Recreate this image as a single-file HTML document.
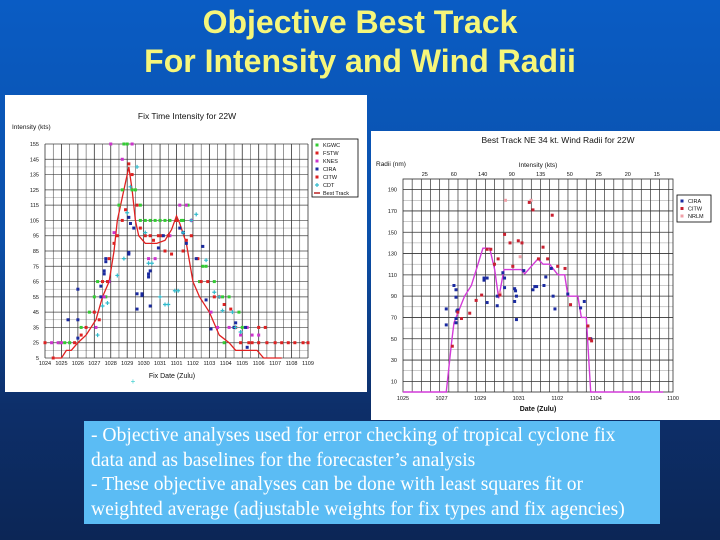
<!DOCTYPE html>
<html><head><meta charset="utf-8"><style>
html,body{margin:0;padding:0;width:720px;height:540px;overflow:hidden}
body{background:linear-gradient(180deg,#0a5cc4 0%,#0b4fa8 45%,#0d2f6a 75%,#0c2656 100%);font-family:"Liberation Sans",sans-serif;position:relative}
#title{position:absolute;left:0;width:720px;top:3px;text-align:center;color:#f6f67a;font-weight:bold;font-size:32px;line-height:39px}
#note{position:absolute;left:84px;top:421px;width:576px;height:103px;background:#5bbcf4;color:#fff;font-family:"Liberation Serif",serif;font-size:19.6px;line-height:24.5px;padding:3px 0 0 7px;box-sizing:border-box;white-space:nowrap}
svg{position:absolute;left:0;top:0}
</style></head><body>
<div id="title">Objective Best Track<br>For Intensity and Wind Radii</div>
<svg id="s" width="720" height="540"></svg>
<div id="note">- Objective analyses used for error checking of tropical cyclone fix<br>data and as baselines for the forecaster’s analysis<br>- These objective analyses can be done with least squares fit or<br>weighted average (adjustable weights for fix types and fix agencies)</div>
<script>
// ---- Left chart data (day index from 1024, intensity kt) ----
const L_xLabels=["1024","1025","1026","1027","1028","1029","1030","1031","1101","1102","1103","1104","1105","1106","1107","1108","1109"];
const L_yTicks=[15,25,35,45,55,65,75,85,95,105,115,125,135,145,155];
const L_yLabels=["5","25","35","45","55","65","75","85","95","105","115","125","135","145","155"];
const L_bestDay=[0.6,1.0,1.3,1.6,2.0,2.5,3.1,3.5,3.9,4.2,4.4,4.6,4.8,5.1,5.3,5.5,5.7,6.1,6.8,7.3,7.7,8.0,8.2,8.6,9.0,9.4,10.0,10.6,11.2,11.6,12.9,13.3,14.4];
const L_bestVal=[15,15,20,20,25,30,40,55,65,85,105,115,125,140,125,105,95,90,90,92,99,108,103,90,65,55,45,30,25,20,20,15,15];
const KGWC_d=[0.9,1.2,1.5,2.2,2.7,3.0,3.2,3.7,4.5,4.7,4.8,5.0,5.3,5.5,5.8,5.8,6.1,6.4,6.7,7.0,7.3,7.6,8.0,8.3,8.7,8.4,9.4,9.6,9.8,10.3,10.8,11.2,11.8,10.9,11.5,12.0];
const KGWC_v=[25,25,25,35,45,55,65,55,115,125,155,155,125,125,115,105,105,105,105,105,105,105,105,105,115,105,65,75,75,65,55,55,45,25,35,35];
const FSTW_d=[0.0,0.5,1.8,2.2,2.5,3.0,3.3,3.5,3.8,3.9,4.2,4.4,4.7,4.9,5.1,5.3,5.6,5.8,6.1,6.4,6.6,6.9,7.1,7.3,7.5,7.7,8.0,8.4,8.6,8.9,9.3,9.5,9.9,10.3,10.6,10.9,11.3,11.6,11.9,12.4,12.6,13.0,13.4,13.0,13.5,14.0,14.4,14.8,15.2,15.7,16.0];
const FSTW_v=[25,15,25,30,35,45,40,65,65,80,90,95,105,112,142,135,115,100,95,95,92,95,95,85,95,83,105,85,92,95,80,65,65,55,55,50,47,35,25,25,25,35,35,25,25,25,25,25,25,25,25];
const KNES_d=[0.4,0.8,1.0,3.1,3.6,3.9,4.0,4.7,5.3,4.2,6.3,6.7,7.6,8.2,8.6,8.9,10.1,10.5,11.2,11.9,12.3,12.6,13.0];
const KNES_v=[25,25,25,35,55,65,155,145,155,97,80,80,95,115,115,105,45,35,35,30,35,30,30];
const CIRA_d=[1.4,2.0,2.0,2.0,3.4,3.4,3.6,3.6,3.7,3.7,5.1,5.1,5.1,5.2,5.4,5.6,5.9,5.9,5.6,6.3,6.3,6.4,6.4,6.9,7.2,8.2,8.4,8.6,9.2,9.6,9.8,10.1,11.5,11.6,12.2,12.3];
const CIRA_v=[40,40,28,60,55,62,70,72,78,80,83,84,107,103,100,57,56,57,47,68,70,72,49,87,95,100,97,90,80,88,53,34,35,38,35,22];
const CDT_d=[3.2,3.5,3.8,4.4,4.8,5.0,5.2,5.6,6.1,6.3,6.5,7.0,7.3,7.5,7.9,8.1,8.4,8.9,9.2,9.8,10.3,10.8,11.4,11.6,11.9,10.6];
const CDT_v=[30,49,51,69,80,110,127,140,97,77,77,55,50,50,59,59,97,105,109,79,58,46,45,35,32,55];
// ---- Right chart data (day index from 1025, radii nm) ----
const R_xLabels=["1025","1027","1029","1031","1102","1104","1106","1100"];
const R_yTicks=[10,30,50,70,90,110,130,150,170,190];
const R_topLabels=["25","60","140","90","135","50","25","20","15"];
const R_bestDay=[-0.09,2.27,2.55,2.69,3.27,3.64,4.27,4.64,4.91,5.13,5.42,6.36,6.55,7.27,7.55,7.91,8.36,8.73,8.91,9.45,9.64,9.91,10.15,14.1];
const R_bestVal=[0,0,45,65,90,100,135,135,115,88,115,115,111,125,120,120,110,110,90,90,70,70,0,0];
const RCIRA_d=[2.27,2.27,2.69,2.8,2.8,2.85,2.9,2.8,2.8,4.33,4.33,4.5,4.5,5.05,5.05,5.36,5.45,5.45,6.0,6.05,6.0,6.1,6.1,6.5,7.0,7.1,7.2,7.6,7.7,8.1,8.2,8.0,8.9,9.6,9.8,10.15];
const RCIRA_v=[78,63,100,96,89,76,77,69,65,107,105,107,84,90,81,112,107,98,97,95,85,90,68,114,96,99,99,100,108,90,78,116,92,79,85,50];
const RCITW_d=[2.6,2.9,3.1,3.55,3.9,4.2,4.5,4.7,4.9,5.1,5.2,5.45,5.75,5.9,6.2,6.4,6.8,7.0,7.3,7.55,7.8,8.05,8.35,8.75,9.05,10.0,10.2,10.1];
const RCITW_v=[43,75,69,74,86,91,134,134,120,125,91,148,140,118,142,140,178,171,125,136,125,166,118,116,82,62,48,50];
const RNRLM_d=[5.5,6.3,6.9,5.2];
const RNRLM_v=[180,127,180,93];

const NS="http://www.w3.org/2000/svg";
const svg=document.getElementById('s');
function mk(tag,attrs,parent){const e=document.createElementNS(NS,tag);for(const k in attrs)e.setAttribute(k,attrs[k]);(parent||svg).appendChild(e);return e;}
function txt(x,y,s,size,anchor,parent,weight){const t=mk('text',{x:x,y:y,'font-size':size,'text-anchor':anchor||'start','font-family':'Liberation Sans, sans-serif',fill:'#111','font-weight':weight||'normal'},parent);t.textContent=s;return t;}

// ===== LEFT CHART =====
const gL=mk('g',{});


const bgL=mk('rect',{x:5,y:95,width:362,height:297,fill:'#fff'},gL);


const LX0=45,LX1=308,LY0=144,LY1=358;
const lx=d=>LX0+d*(LX1-LX0)/16;
const ly=v=>LY1-(v-15)*(LY1-LY0)/140;
for(let v=15;v<=155;v+=5){if(v%10==0&&v%20!=0)continue;const l=mk('line',{x1:LX0,x2:LX1,y1:ly(v),y2:ly(v),stroke:(v%10==5)?'#444':'#999','stroke-width':(v%10==5)?0.7:0.5},gL);}
for(let d=0;d<=16;d+=0.5){const l=mk('line',{x1:lx(d),x2:lx(d),y1:LY0,y2:LY1,stroke:'#333','stroke-width':(d%1==0)?0.8:0.5},gL);}
L_yTicks.forEach((v,i)=>{const t=txt(LX0-6,ly(v)+2,L_yLabels[i],5.5,'end',gL);});
L_xLabels.forEach((s,i)=>{const t=txt(lx(i),365,s,5.5,'middle',gL);});
let t;
t=txt(187,119,'Fix Time Intensity for 22W',8.5,'middle',gL);
t=txt(12,129,'Intensity (kts)',6.5,'start',gL);
t=txt(172,378,'Fix Date (Zulu)',7,'middle',gL);
t=txt(133,384,'+',8,'middle',gL);t.setAttribute('fill','#3cc');

function sq(x,y,c,g,name){const r=mk('rect',{x:x-1.5,y:y-1.5,width:3,height:3,fill:c},g);}
function plus(x,y,c,g,name){const p=mk('path',{d:`M${x-2},${y}h4M${x},${y-2}v4`,stroke:c,'stroke-width':1.2},g);}
const bl=mk('polyline',{points:L_bestDay.map((d,i)=>lx(d)+','+ly(L_bestVal[i])).join(' '),fill:'none',stroke:'#e02020','stroke-width':1.3},gL);


KGWC_d.forEach((d,i)=>sq(lx(d),ly(KGWC_v[i]),'#3c3',gL,'kgwc-point'));
KNES_d.forEach((d,i)=>sq(lx(d),ly(KNES_v[i]),'#c3c',gL,'knes-point'));
FSTW_d.forEach((d,i)=>sq(lx(d),ly(FSTW_v[i]),'#d22',gL,'fstw-point'));
CIRA_d.forEach((d,i)=>sq(lx(d),ly(CIRA_v[i]),'#1a2aa0',gL,'cira-point'));
CDT_d.forEach((d,i)=>plus(lx(d),ly(CDT_v[i]),'#3bc',gL,'cdt-point'));
const lg=mk('g',{},gL);


mk('rect',{x:312,y:139,width:46,height:58,fill:'#fff',stroke:'#000','stroke-width':0.8},lg);
const LN=["KGWC","FSTW","KNES","CIRA","CITW","CDT","Best Track"],LC=["#3c3","#d22","#c3c","#1a2aa0","#d22","#3bc","#b22"];
LN.forEach((n,i)=>{const y=145+i*8;const e=mk('g',{},lg);
if(i==5)plus(317,y,LC[i],e,'legend-marker');else if(i==6)mk('line',{x1:314,x2:320,y1:y,y2:y,stroke:LC[i],'stroke-width':1.5},e);else sq(317,y,LC[i],e,'legend-marker');
txt(323,y+2,n,5.5,'start',e);});

// ===== RIGHT CHART =====
const gR=mk('g',{});


const bgR=mk('rect',{x:371,y:131,width:349,height:289,fill:'#fff'},gR);


const RX0=403,RX1=673,RY0=179,RY1=392;
const rx=d=>RX0+(d+0.09)*(RX1-RX0)/14.73;
const ry=v=>RY1-v*(RY1-RY0)/200;
for(let v=0;v<=200;v+=10){const l=mk('line',{x1:RX0,x2:RX1,y1:ry(v),y2:ry(v),stroke:(v%20==10)?'#333':'#999','stroke-width':(v%20==10)?0.8:0.5},gR);}
for(let d=-0.09+0.5;d<=14.64;d+=0.5){const l=mk('line',{x1:rx(d),x2:rx(d),y1:RY0,y2:RY1,stroke:'#333','stroke-width':0.7},gR);}
mk('rect',{x:RX0,y:RY0,width:RX1-RX0,height:RY1-RY0,fill:'none',stroke:'#333','stroke-width':0.8},gR);
R_yTicks.forEach(v=>{const t=txt(RX0-6,ry(v)+2,String(v),5.5,'end',gR);});
R_xLabels.forEach((s,i)=>{const t=txt(RX0+i*(RX1-RX0)/(R_xLabels.length-1),400,s,5.5,'middle',gR);});
R_topLabels.forEach((s,i)=>{const t=txt(RX0+(i+0.75)*29,176,s,5.5,'middle',gR);});
t=txt(558,143,'Best Track NE 34 kt. Wind Radii for 22W',8.5,'middle',gR);
t=txt(376,166,'Radii (nm)',6.5,'start',gR);
t=txt(538,167,'Intensity (kts)',6.5,'middle',gR);
t=txt(538,411,'Date (Zulu)',7,'middle',gR,'bold');
const rl=mk('polyline',{points:R_bestDay.map((d,i)=>rx(d)+','+ry(R_bestVal[i])).join(' '),fill:'none',stroke:'#d23ad8','stroke-width':1.4},gR);


RNRLM_d.forEach((d,i)=>sq(rx(d),ry(RNRLM_v[i]),'#f0a0a8',gR,'nrlm-point'));
RCIRA_d.forEach((d,i)=>sq(rx(d),ry(RCIRA_v[i]),'#1a2aa0',gR,'cira-radii-point'));
RCITW_d.forEach((d,i)=>sq(rx(d),ry(RCITW_v[i]),'#c82030',gR,'citw-radii-point'));
const rg=mk('g',{},gR);


mk('rect',{x:677,y:195,width:34,height:27,fill:'#fff',stroke:'#000','stroke-width':0.8},rg);
["CIRA","CITW","NRLM"].forEach((n,i)=>{const y=201+i*7.5;const e=mk('g',{},rg);
sq(682,y,["#1a2aa0","#c82030","#f0a0a8"][i],e,'legend-marker');txt(688,y+2,n,5.5,'start',e);});
</script>
</body></html>
